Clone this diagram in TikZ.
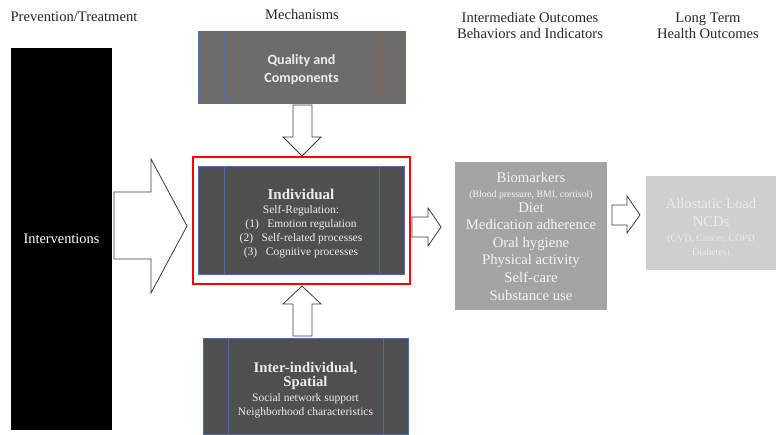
\documentclass[tikz,border=0pt]{standalone}
\usepackage{fontspec}
\setmainfont{Liberation Serif}
\newfontfamily\calib{Carlito}
\definecolor{qgray}{HTML}{6F6B6B}
\definecolor{dgray}{HTML}{4F4F4F}
\definecolor{bgray}{HTML}{A6A3A3}
\definecolor{lgray}{HTML}{D0CECE}
\definecolor{ltext}{HTML}{EDEDED}
\definecolor{wtext}{HTML}{F4F4F4}
\definecolor{bline}{HTML}{4A6FA5}
\definecolor{alinec}{HTML}{3C3C3C}
\tikzset{
  box/.style={draw=bline, line width=0.7pt, inner sep=0pt, outer sep=0pt, anchor=north west},
  plainbox/.style={inner sep=0pt, outer sep=0pt, anchor=north west},
  blockarrow/.style={draw=alinec, line width=0.8pt, fill=white, line join=miter},
  header/.style={font=\fontsize{14.6}{16}\selectfont, align=center, text=black!85},
  divider/.style={bline, line width=0.9pt},
}
\begin{document}
\begin{tikzpicture}[x=1pt,y=-1pt]
\useasboundingbox (0,0) rectangle (776,435);
% headers
\node[header] (h1) at (74,17) {Prevention/Treatment};
\node[header] (h2) at (302,15) {Mechanisms};
\node[header] (h3) at (530,25.5) {Intermediate Outcomes\\Behaviors and Indicators};
\node[header] (h4) at (708,25.5) {Long Term\\Health Outcomes};
% interventions
\node[plainbox, fill=black, minimum width=101, minimum height=382] (intv) at (11,48) {};
\node[text=white, font=\fontsize{14.4}{16}\selectfont] (intvt) at (intv.center) {Interventions};
% quality box
\node[box, fill=qgray, minimum width=207, minimum height=72] (qual) at (198,31) {};
\draw[divider] (qual.north west) ++(26,0) -- ++(0,72);
\draw[divider] (qual.north east) ++(-26,0) -- ++(0,72);
\node[text=ltext, align=center, font=\calib\bfseries\fontsize{14.1}{18}\selectfont] (qualt) at ([yshift=-2.5pt]qual.center) {Quality and\\Components};
% individual box
\node[plainbox, draw=red, line width=2pt, minimum width=217, minimum height=127] (red) at (193,157) {};
\node[box, fill=dgray, minimum width=206, minimum height=108] (indiv) at (198,166) {};
\draw[divider] (indiv.north west) ++(26,0) -- ++(0,108);
\draw[divider] (indiv.north east) ++(-25,0) -- ++(0,108);
\node[text=ltext, align=center, font=\fontsize{11.5}{14}\selectfont] (indivt) at ([yshift=-4pt]indiv.center)
  {{\fontsize{15}{16}\selectfont\bfseries Individual}\\Self-Regulation:\\(1)\enspace\ Emotion regulation\\(2)\enspace\ Self-related processes\\(3)\enspace\ Cognitive processes};
% inter-individual box
\node[box, fill=dgray, minimum width=205, minimum height=96] (inter) at (203,338) {};
\draw[divider] (inter.north west) ++(25,0) -- ++(0,96);
\draw[divider] (inter.north east) ++(-25,0) -- ++(0,96);
\node[text=ltext, align=center, font=\fontsize{11.5}{14}\selectfont] (intert) at ([yshift=-4pt]inter.center)
  {{\fontsize{14.7}{15}\selectfont\bfseries Inter-individual,}\\{\fontsize{14.7}{16}\selectfont\bfseries Spatial}\\[1.5pt]Social network support\\Neighborhood characteristics};
% biomarkers box
\node[plainbox, fill=bgray, minimum width=152, minimum height=148] (bio) at (455,162) {};
\node[text=wtext, align=center, font=\fontsize{14.7}{17.6}\selectfont] (biot) at ([yshift=-0.5pt]bio.center)
  {Biomarkers\\[-3pt]{\fontsize{9.8}{10}\selectfont (Blood pressure, BMI, cortisol)}\\[-3pt]Diet\\Medication adherence\\Oral hygiene\\Physical activity\\Self-care\\Substance use};
% allostatic box
\node[plainbox, fill=lgray, minimum width=130, minimum height=94] (allo) at (646,176) {};
\node[text=ltext, align=center, font=\fontsize{14.6}{18}\selectfont] (allot) at ([yshift=-4.5pt]allo.center)
  {Allostatic Load\\NCDs\\[-3pt]{\fontsize{9.8}{12}\selectfont (CVD, Cancer, COPD}\\[-4pt]{\fontsize{9.8}{12}\selectfont Diabetes)}};
% block arrows
\draw[blockarrow] (114,192) -- (151,192) -- (151,159) -- (187,226) -- (151,293) -- (151,259) -- (114,259) -- cycle;
\draw[blockarrow] (293,105) -- (312,105) -- (312,137) -- (321,137) -- (302,156) -- (283,137) -- (293,137) -- cycle;
\draw[blockarrow] (302,286) -- (321,304) -- (312,304) -- (312,336) -- (293,336) -- (293,304) -- (283,304) -- cycle;
\draw[blockarrow] (412,217) -- (428,217) -- (428,208) -- (441,227) -- (428,246) -- (428,237) -- (412,237) -- cycle;
\draw[blockarrow] (612,205) -- (627,205) -- (627,196) -- (640,215) -- (627,233) -- (627,225) -- (612,225) -- cycle;
\end{tikzpicture}
\end{document}
